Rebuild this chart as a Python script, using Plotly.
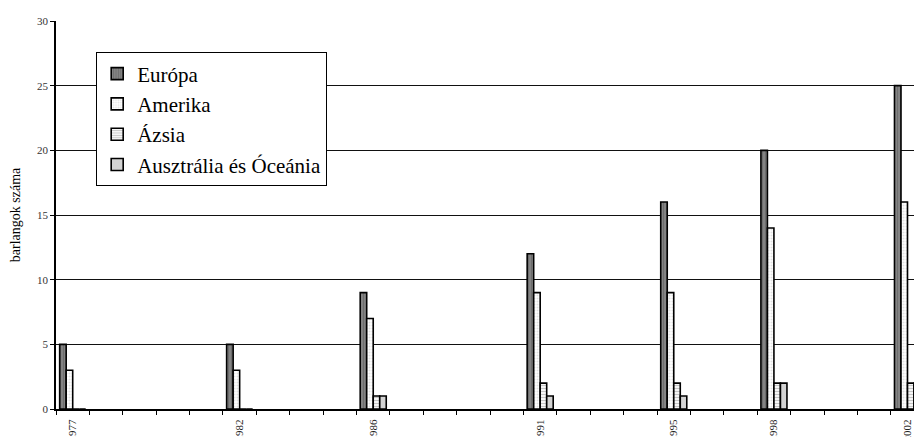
import plotly.graph_objects as go

# Number of known caves per continent, by survey year
years = [1977, 1982, 1986, 1991, 1995, 1998, 2002]
europa = [5, 5, 9, 12, 16, 20, 25]
amerika = [3, 3, 7, 9, 9, 14, 16]
azsia = [0, 0, 1, 2, 2, 2, 2]
ausztralia = [0, 0, 1, 1, 1, 2, 2]

series_names = ["Európa", "Amerika", "Ázsia", "Ausztrália és Óceánia"]
series_values = [europa, amerika, azsia, ausztralia]

patterns = [
    dict(shape="|", bgcolor="#878787", fgcolor="#555555", size=3, solidity=0.45),
    dict(shape=".", bgcolor="#ffffff", fgcolor="#c4c4c4", size=3, solidity=0.35),
    dict(shape="-", bgcolor="#ffffff", fgcolor="#8e8e8e", size=3, solidity=0.45),
    dict(shape=".", bgcolor="#e6e6e6", fgcolor="#8e8e8e", size=2, solidity=0.5),
]

bar_w = 0.195
fig = go.Figure()
for i, (name, vals) in enumerate(zip(series_names, series_values)):
    fig.add_trace(go.Bar(
        x=years, y=vals, name=name,
        width=bar_w, offset=-2 * bar_w + i * bar_w,
        marker=dict(color=patterns[i]["bgcolor"], pattern=patterns[i],
                    line=dict(color="black", width=1.6)),
        legendgroup=name,
        xaxis="x", yaxis="y",
    ))

serif = "Liberation Serif"
x_range = [1976.5, 1976.5 + 858.2 / 33.4]

fig.update_layout(
    width=914, height=437,
    margin=dict(l=55.8, r=0, t=20.5, b=27.7, autoexpand=False),
    paper_bgcolor="white", plot_bgcolor="white",
    barmode="overlay",
    showlegend=True,
    font=dict(family=serif, color="black"),
    legend=dict(
        x=(96 - 55.8) / 858.2, y=(409.3 - 52) / 388.8, xanchor="left", yanchor="top",
        bgcolor="white", bordercolor="black", borderwidth=1,
        font=dict(family=serif, size=21, color="black"),
        tracegroupgap=8, traceorder="normal",
    ),
    xaxis=dict(
        range=x_range, tickmode="linear", tick0=1976.5, dtick=1,
        ticks="outside", ticklen=4, tickcolor="black", tickwidth=1,
        showticklabels=False, showgrid=False, zeroline=False,
        showline=True, linecolor="black", linewidth=1.5, automargin=False,
    ),
    xaxis2=dict(
        range=x_range, overlaying="x", anchor="y", side="bottom",
        tickmode="array", tickvals=years, ticktext=[str(y) for y in years],
        ticks="outside", ticklen=5, tickcolor="rgba(0,0,0,0)",
        tickangle=-90, tickfont=dict(family=serif, size=11, color="#222"),
        ticklabeloverflow="allow",
        showgrid=False, zeroline=False, showline=False, automargin=False,
    ),
    yaxis=dict(
        range=[0, 30], tickmode="linear", tick0=0, dtick=5,
        ticks="outside", ticklen=4, tickcolor="black",
        tickfont=dict(family=serif, size=11, color="#333"),
        showgrid=True, gridcolor="#111", gridwidth=1,
        zeroline=False, showline=True, linecolor="black", linewidth=1.5,
        title=dict(text="barlangok száma", font=dict(family=serif, size=14, color="black"), standoff=13),
        automargin=False,
    ),
)

# empty trace so the label axis is laid out
fig.add_trace(go.Scatter(x=[], y=[], xaxis="x2", yaxis="y", showlegend=False, hoverinfo="skip"))

fig.write_html("out.html")
